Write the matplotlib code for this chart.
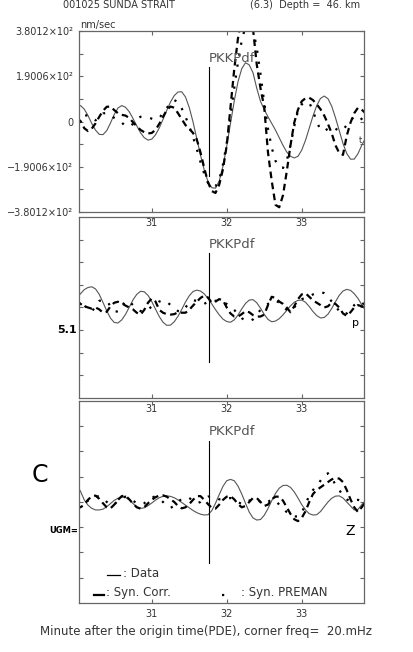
import matplotlib
matplotlib.use("Agg")
import matplotlib.pyplot as plt

# sample times (minutes after origin time)
minutes = [30.00, 30.05, 30.10, 30.15, 30.20, 30.25, 30.30, 30.35, 30.40, 30.45,
           30.50, 30.55, 30.60, 30.65, 30.70, 30.75, 30.80, 30.85, 30.90, 30.95,
           31.00, 31.05, 31.10, 31.15, 31.20, 31.25, 31.30, 31.35, 31.40, 31.45,
           31.50, 31.55, 31.60, 31.65, 31.70, 31.75, 31.80, 31.85, 31.90, 31.95,
           32.00, 32.05, 32.10, 32.15, 32.20, 32.25, 32.30, 32.35, 32.40, 32.45,
           32.50, 32.55, 32.60, 32.65, 32.70, 32.75, 32.80, 32.85, 32.90, 32.95,
           33.00, 33.05, 33.10, 33.15, 33.20, 33.25, 33.30, 33.35, 33.40, 33.45,
           33.50, 33.55, 33.60, 33.65, 33.70, 33.75, 33.80, 33.85]

# panel 1 (nm/sec)
p1_data = [66, 67, 52, 25, -8, -36, -54, -55, -38, -6,
           30, 57, 67, 60, 41, 13, -18, -47, -68, -78,
           -74, -56, -27, 9, 47, 82, 109, 124, 125, 103,
           59, -1, -71, -141, -204, -252, -278, -280, -249, -187,
           -103, -8, 86, 167, 222, 247, 238, 205, 140, 85,
           50, 20, -8, -36, -68, -100, -128, -146, -153, -146,
           -120, -79, -28, 23, 67, 97, 107, 96, 64, 16,
           -38, -92, -134, -158, -158, -135, -100, -70]
p1_corr = [15, 2, -28, -40, -30, -8, 20, 45, 62, 63,
           48, 35, 28, 25, 15, -3, -20, -35, -45, -50,
           -48, -35, -10, 20, 48, 63, 58, 35, 10, -15,
           -30, -48, -75, -130, -195, -255, -292, -300, -265, -200,
           -100, 60, 220, 350, 440, 470, 450, 390, 240, 140,
           60, -130, -250, -350, -360, -310, -210, -100, -5, 50,
           85, 98, 100, 90, 72, 52, 25, -10, -50, -100,
           -132, -140, -60, -5, 35, 58, 50, 35]
p1_prem = [-5, 10, 24, 27, 15, 5, 18, 34, 36, 28,
           15, 5, -5, -18, -22, -10, 10, 20, 20, 18,
           12, 8, 15, 35, 57, 78, 90, 82, 55, 20,
           -20, -65, -115, -170, -220, -258, -276, -272, -245, -180,
           -90, 20, 140, 250, 340, 400, 420, 390, 310, 200,
           80, -30, -110, -165, -192, -195, -165, -100, -20, 45,
           72, 82, 80, 45, 0, -35, -40, -30, -22, -30,
           -40, -35, -15, 5, 20, 25, 10, -5]

# panel 2
p2_data = [40, 58, 75, 84, 87, 78, 55, 21, -14, -45,
           -63, -65, -52, -29, 1, 32, 55, 68, 66, 51,
           25, -7, -38, -62, -75, -74, -60, -37, -8, 23,
           49, 67, 73, 69, 57, 38, 15, -9, -31, -49,
           -59, -62, -52, -32, -6, 17, 31, 33, 20, -3,
           -29, -50, -60, -57, -47, -31, -12, 7, 22, 30,
           31, 22, 4, -17, -34, -44, -42, -28, -4, 24,
           51, 69, 76, 72, 58, 38, 12, -12]
p2_corr = [30, 15, 5, 0, -5, 0, -8, -22, -18, 5,
           20, 24, 18, 8, 0, -8, -22, -30, -10, 20,
           38, 25, -10, -22, -28, -30, -28, -20, -22, -22,
           -10, 8, 24, 40, 50, 42, 20, 25, 35, 30,
           0, -25, -38, -38, -28, -15, -20, -32, -38, -38,
           -30, 10, 45, 40, 25, 15, 0, -20, 5, 35,
           55, 60, 45, 30, 20, 10, 0, 5, 20, 15,
           0, -25, -35, -20, 0, 10, 5, 0]
p2_prem = [10, 25, 10, -10, -18, 5, 28, 30, 28, 5,
           -15, -18, 5, 28, 25, 10, -5, -15, -18, -10,
           5, 15, 25, 30, 25, 10, -5, -15, -18, 0,
           20, 30, 28, 20, 15, 25, 30, 28, 22, 20,
           15, 5, -10, -30, -45, -55, -58, -50, -30, -10,
           5, 15, 25, 30, 20, 5, -10, -15, 0, 20,
           35, 40, 45, 55, 62, 65, 60, 45, 25, 5,
           -15, -30, -25, -10, 10, 25, 20, 10]

# panel 3 (UGM Z)
p3_data = [65, 40, 8, -12, -24, -30, -30, -27, -18, -6,
           6, 14, 18, 17, 8, -6, -18, -24, -22, -14,
           -4, 7, 16, 21, 23, 21, 16, 8, -2, -12,
           -22, -32, -40, -46, -49, -48, -33, -5, 28, 59,
           80, 85, 80, 60, 30, -5, -38, -60, -68, -66,
           -50, -25, 5, 32, 52, 62, 63, 55, 38, 15,
           -10, -30, -44, -49, -48, -36, -18, 0, 14, 22,
           23, 15, 0, -15, -30, -28, -10, 5]
p3_corr = [-15, -20, -10, 8, 22, 24, 12, -5, -20, -24,
           -10, 8, 22, 24, 10, -6, -20, -25, -20, -5,
           8, 18, 24, 25, 20, 10, 0, -15, -24, -20,
           -8, 8, 22, 22, 8, -8, -22, -25, -10, 8,
           20, 22, 10, -8, -20, -15, 0, 15, 15, 0,
           -15, -10, 10, 20, 20, 5, -20, -45, -65, -72,
           -60, -35, 0, 30, 45, 55, 65, 75, 85, 90,
           88, 75, 45, 10, -20, -38, -20, 0]
p3_prem = [15, 20, 15, 5, 10, 20, 22, 15, 0, -12,
           -10, 5, 15, 20, 15, 5, -5, -10, -5, 8,
           18, 20, 12, 0, -15, -22, -15, 0, 12, 18,
           15, 5, -5, 0, 12, 20, 22, 18, 10, 8,
           12, 15, 10, 0, -8, -5, 5, 12, 10, 0,
           -8, 0, 10, 5, -10, -25, -38, -48, -54, -55,
           -40, -10, 25, 45, 60, 80, 100, 108, 90, 65,
           45, 25, 10, 2, 5, 8, 5, 0]

phase_time = 31.76
phase_name = "PKKPdf"
xtick_vals = [31, 32, 33]
y_max = 380.12
ytick_vals = [-380.12, -285.09, -190.06, -95.03, 0, 95.03, 190.06, 285.09, 380.12]
ytick_text = ["\u22123.8012\u00d710\u00b2", "", "\u22121.9006\u00d710\u00b2", "", "0",
              "", "1.9006\u00d710\u00b2", "", "3.8012\u00d710\u00b2"]

traces = [(p1_data, p1_corr, p1_prem),
          (p2_data, p2_corr, p2_prem),
          (p3_data, p3_corr, p3_prem)]

boxes = [[0.1913, 0.6748, 0.690, 0.2776],
         [0.1913, 0.3896, 0.690, 0.2776],
         [0.1913, 0.0752, 0.690, 0.3098]]

grey = '#666666'
txt = '#333333'

fig = plt.figure(figsize=(4.13, 6.52), dpi=100)

axes = []
for i, (box, (d, c, p)) in enumerate(zip(boxes, traces)):
    ax = fig.add_axes(box)
    ax.patch.set_visible(False)
    ax.plot(minutes, d, color='#555555', lw=0.8)
    ax.plot(minutes, c, color='black', lw=1.6, linestyle=(0, (3, 2)))
    ax.plot(minutes, p, color='black', lw=1.6, linestyle=(0, (1, 4)))
    ax.plot([phase_time, phase_time], [-0.6 * y_max, 0.6 * y_max], color='black', lw=0.8)
    ax.text(phase_time, 0.7 * y_max, phase_name, fontsize=9.5, color='#555555',
            ha='left', va='center')
    ax.set_xlim(30.03, 33.83)
    ax.set_ylim(-y_max, y_max)
    ax.set_xticks(xtick_vals)
    ax.set_xticklabels([str(v) for v in xtick_vals])
    if i == 0:
        ax.set_yticks(ytick_vals)
        ax.set_yticklabels(ytick_text)
    else:
        ax.set_yticks(ytick_vals[1:-1])
        ax.set_yticklabels([])
    ax.tick_params(axis='both', direction='in', length=3, width=0.8, colors=grey,
                   labelcolor=txt, labelsize=7, top=True, right=True, pad=4)
    for s in ax.spines.values():
        s.set_color(grey)
        s.set_linewidth(0.9)
    axes.append(ax)

ax3 = axes[2]

# legend drawn as in the original plot
ax3.plot([0.098, 0.144], [0.139, 0.139], transform=ax3.transAxes, color='black', lw=0.9)
ax3.text(0.155, 0.148, ": Data", transform=ax3.transAxes, fontsize=8.5, color=txt,
         va='center')
ax3.plot([0.053, 0.086], [0.04, 0.04], transform=ax3.transAxes, color='black', lw=1.6)
ax3.text(0.095, 0.05, ": Syn. Corr.", transform=ax3.transAxes, fontsize=8.5, color=txt,
         va='center')
ax3.plot([0.503, 0.525], [0.04, 0.04], transform=ax3.transAxes, color='black', lw=1.6,
         linestyle=(0, (1, 4)))
ax3.text(0.568, 0.05, ": Syn. PREMAN", transform=ax3.transAxes, fontsize=8.5, color=txt,
         va='center')

# header and labels
fig.text(0.1525, 0.9916, "001025 SUNDA STRAIT", fontsize=7, color=txt, va='center')
fig.text(0.605, 0.9916, "(6.3)  Depth =  46. km", fontsize=7, color=txt, va='center')
fig.text(0.1937, 0.9617, "nm/sec", fontsize=7, color=txt, va='center')
fig.text(0.186, 0.494, "5.1", fontsize=8, color='black', ha='right', va='center',
         fontweight='bold')
fig.text(0.097, 0.2715, "C", fontsize=17, color='black', ha='center', va='center')
fig.text(0.189, 0.1856, "UGM=", fontsize=6, color='black', ha='right', va='center',
         fontweight='bold')
fig.text(0.847, 0.1856, "Z", fontsize=10, color='black', ha='center', va='center')
fig.text(0.872, 0.785, "t", fontsize=6, color=txt, ha='center', va='center')
fig.text(0.86, 0.5046, "p", fontsize=8, color='black', ha='center', va='center')
fig.text(0.097, 0.0307, "Minute after the origin time(PDE), corner freq=  20.mHz",
         fontsize=8.5, color=txt, ha='left', va='center')

fig.savefig("out.png", dpi=100, facecolor='white')
